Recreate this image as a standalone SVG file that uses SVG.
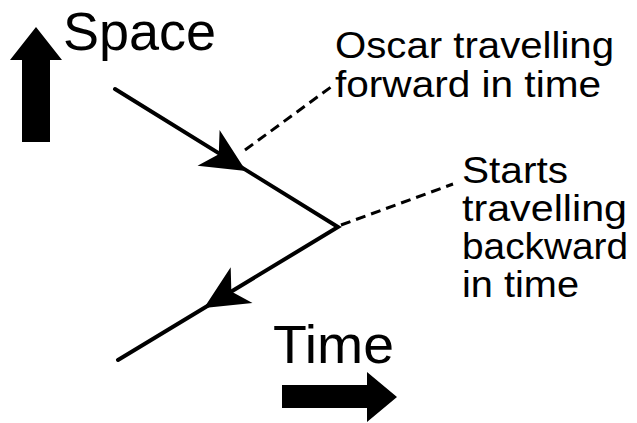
<svg xmlns="http://www.w3.org/2000/svg" width="637" height="423" viewBox="0 0 637 423">
<style>
text { font-family: "Liberation Sans", Arial, sans-serif; fill: #000; }
.big { font-size: 54px; }
.lbl { font-size: 36px; }
.path { stroke: #000; stroke-width: 4; fill: none; stroke-linecap: round; stroke-linejoin: miter; }
.dash { stroke: #000; stroke-width: 3; fill: none; stroke-dasharray: 10 6; }
</style>
<defs>
<path id="head" d="M0,0 L-44,-21 L-32,0 L-44,21 Z" fill="#000"/>
</defs>
<rect width="637" height="423" fill="#fff"/>
<g id="axis-space">
<polygon points="36,27 62,60 50,60 50,142 22,142 22,60 10,60" fill="#000"/>
<text class="big" x="63" y="50">Space</text>
</g>
<g id="axis-time">
<polygon points="282,385 367,385 367,372 397,397 367,422 367,408 282,408" fill="#000"/>
<text class="big" x="273" y="363" textLength="121" lengthAdjust="spacingAndGlyphs">Time</text>
</g>
<g id="label-forward">
<text class="lbl" x="335" y="58" textLength="279" lengthAdjust="spacingAndGlyphs">Oscar travelling</text>
<text class="lbl" x="335" y="97" textLength="266" lengthAdjust="spacingAndGlyphs">forward in time</text>
</g>
<g id="label-backward">
<text class="lbl" x="462" y="183" textLength="106" lengthAdjust="spacingAndGlyphs">Starts</text>
<text class="lbl" x="462" y="221" textLength="165" lengthAdjust="spacingAndGlyphs">travelling</text>
<text class="lbl" x="462" y="259" textLength="166" lengthAdjust="spacingAndGlyphs">backward</text>
<text class="lbl" x="462" y="297" textLength="117" lengthAdjust="spacingAndGlyphs">in time</text>
</g>
<g id="connectors">
<polyline class="path" points="115,89 338,227 118,360"/>
<use href="#head" transform="translate(246,171) rotate(31.7)"/>
<use href="#head" transform="translate(204,308) rotate(148.7)"/>
<line class="dash" x1="245" y1="150" x2="331" y2="87"/>
<line class="dash" x1="341" y1="225" x2="453" y2="184"/>
</g>
</svg>
